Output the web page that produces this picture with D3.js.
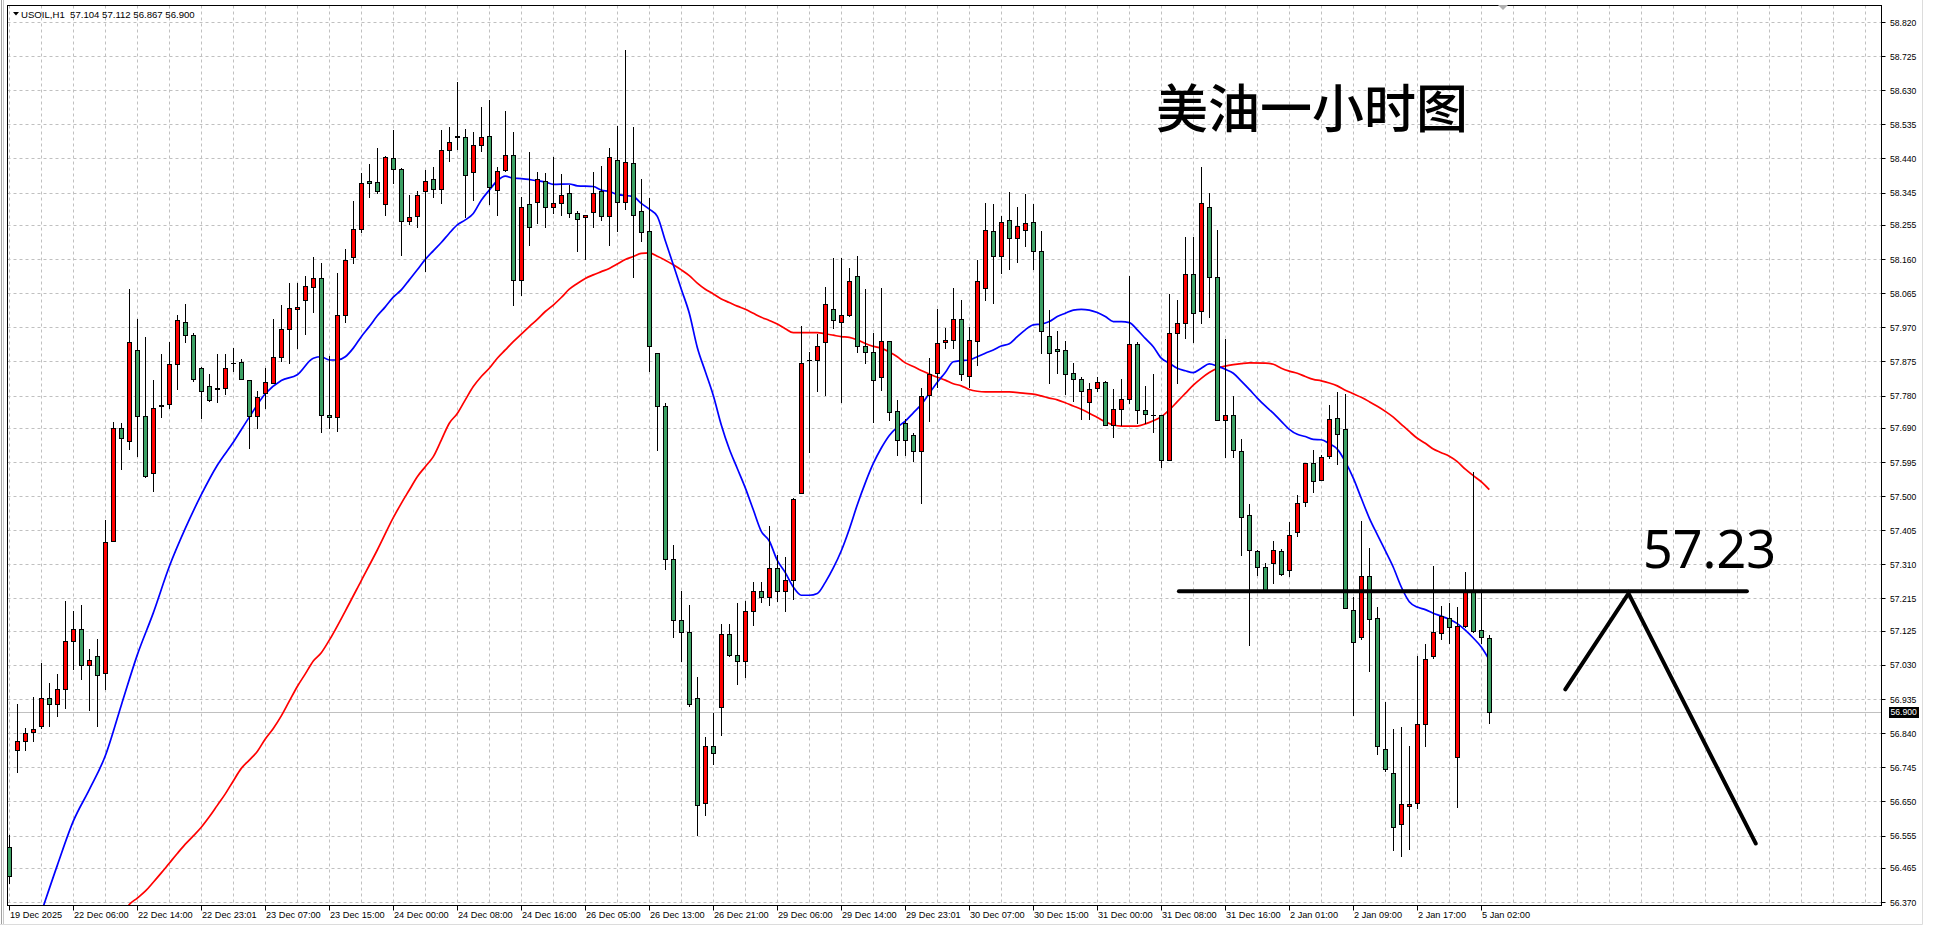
<!DOCTYPE html>
<html>
<head>
<meta charset="utf-8">
<script src="https://cdn.jsdelivr.net/npm/d3@7/dist/d3.min.js"></script>
<style>
  body { margin: 0; background: #fff; }
  svg { display: block; }
</style>
</head>
<body>
<svg id="chart" width="1940" height="938"></svg>
<script>
// OHLC of each hourly bar (bar 0 = left edge)
var opens = [56.524,56.793,56.817,56.843,56.859,56.939,56.922,56.962,57.098,57.131,57.030,57.054,57.007,57.375,57.691,57.654,57.907,57.724,57.565,57.750,
  57.757,57.867,57.984,57.949,57.858,57.806,57.799,57.801,57.872,57.874,57.822,57.722,57.787,57.815,57.888,57.965,58.022,58.047,58.083,58.106,
  57.727,57.719,58.005,58.167,58.243,58.376,58.375,58.312,58.440,58.412,58.267,58.280,58.349,58.382,58.354,58.464,58.499,58.501,58.401,58.477,
  58.504,58.352,58.408,58.451,58.102,58.312,58.319,58.378,58.304,58.317,58.343,58.287,58.276,58.291,58.349,58.280,58.436,58.319,58.428,58.293,
  58.238,57.898,57.750,57.326,57.156,57.121,56.937,56.646,56.805,56.913,57.116,57.059,57.042,57.180,57.237,57.218,57.299,57.237,57.267,57.510,
  57.879,57.879,57.928,58.020,57.985,58.004,58.112,57.917,57.901,57.833,57.931,57.736,57.704,57.669,57.626,57.782,57.842,57.930,57.936,57.993,
  57.834,57.933,58.080,58.239,58.169,58.269,58.219,58.241,58.263,58.183,57.946,57.909,57.907,57.842,57.827,57.762,57.801,57.818,57.699,57.742,
  57.770,57.924,57.740,57.727,57.725,57.601,57.953,57.981,58.118,58.016,58.304,58.111,57.712,57.727,57.627,57.448,57.346,57.302,57.315,57.348,
  57.293,57.400,57.483,57.591,57.544,57.611,57.718,57.688,57.184,57.109,57.277,57.160,56.797,56.728,56.587,56.637,56.647,56.866,57.054,57.119,
  57.162,56.775,57.139,57.236,57.127,57.104];
var highs = [56.557,56.922,56.854,56.941,57.035,56.981,57.004,57.208,57.180,57.196,57.075,57.103,57.433,57.705,57.703,58.078,57.993,57.944,57.822,57.897,
  57.928,58.005,58.036,57.954,57.860,57.841,57.897,57.895,57.911,57.881,57.822,57.792,57.857,57.993,58.033,58.094,58.094,58.113,58.167,58.148,
  57.890,58.122,58.187,58.321,58.399,58.425,58.469,58.447,58.519,58.414,58.337,58.350,58.408,58.417,58.519,58.527,58.653,58.523,58.514,58.582,
  58.603,58.417,58.571,58.514,58.332,58.458,58.401,58.399,58.445,58.397,58.365,58.295,58.284,58.402,58.419,58.469,58.530,58.743,58.527,58.384,
  58.330,57.898,57.758,57.364,57.237,57.196,56.997,56.829,56.897,57.145,57.145,57.202,57.207,57.261,57.261,57.418,57.337,57.331,57.496,57.974,
  57.901,57.950,58.082,58.163,58.163,58.136,58.168,58.076,57.955,58.079,57.931,57.769,57.715,57.677,57.801,57.885,58.020,57.968,58.079,58.047,
  57.972,58.156,58.317,58.313,58.280,58.347,58.304,58.341,58.313,58.237,58.018,57.959,57.931,57.870,57.833,57.814,57.833,57.820,57.799,57.825,
  58.113,57.929,57.807,57.840,57.727,58.063,58.046,58.222,58.222,58.416,58.343,58.241,57.937,57.779,57.658,57.478,57.350,57.313,57.374,57.352,
  57.429,57.504,57.593,57.629,57.615,57.755,57.789,57.785,57.218,57.431,57.356,57.190,56.927,56.852,56.856,56.805,57.054,57.089,57.305,57.194,
  57.202,57.190,57.289,57.568,57.236,57.112];
var lows = [56.423,56.733,56.793,56.817,56.855,56.859,56.889,56.910,57.018,56.990,56.904,56.861,56.964,57.375,57.576,57.630,57.611,57.553,57.513,57.719,
  57.745,57.799,57.928,57.820,57.717,57.764,57.761,57.785,57.848,57.825,57.633,57.689,57.745,57.815,57.876,57.872,57.911,57.951,58.012,57.679,
  57.690,57.682,57.985,58.150,58.234,58.334,58.345,58.284,58.371,58.172,58.258,58.250,58.126,58.334,58.315,58.434,58.466,58.276,58.324,58.460,
  58.312,58.284,58.405,58.031,58.061,58.200,58.261,58.250,58.289,58.282,58.278,58.183,58.159,58.250,58.269,58.200,58.239,58.299,58.109,58.209,
  57.847,57.628,57.296,57.107,57.040,56.916,56.557,56.611,56.754,56.835,57.056,56.978,56.997,57.140,57.205,57.196,57.207,57.180,57.213,57.510,
  57.623,57.793,57.782,57.968,57.763,58.001,57.901,57.871,57.707,57.796,57.712,57.615,57.615,57.599,57.480,57.709,57.804,57.912,57.912,57.823,
  57.805,57.864,58.046,58.039,58.120,58.131,58.152,58.196,58.131,57.899,57.816,57.842,57.784,57.764,57.716,57.714,57.794,57.699,57.664,57.697,
  57.760,57.703,57.703,57.679,57.582,57.601,57.816,57.940,57.929,57.983,57.999,57.712,57.610,57.608,57.335,57.085,57.280,57.239,57.259,57.281,
  57.277,57.388,57.473,57.512,57.544,57.605,57.589,57.188,56.890,57.103,57.014,56.781,56.734,56.514,56.498,56.518,56.631,56.805,57.050,57.101,
  57.091,56.635,57.137,57.123,57.091,56.867];
var closes = [56.442,56.817,56.840,56.852,56.939,56.922,56.962,57.098,57.131,57.030,57.044,57.002,57.372,57.691,57.661,57.930,57.724,57.555,57.745,57.754,
  57.869,57.989,57.949,57.827,57.792,57.768,57.801,57.858,57.872,57.825,57.722,57.775,57.818,57.888,57.965,58.024,58.026,58.085,58.106,57.726,
  57.719,58.005,58.156,58.245,58.371,58.371,58.350,58.445,58.412,58.265,58.276,58.339,58.378,58.354,58.464,58.486,58.504,58.395,58.477,58.499,
  58.362,58.404,58.451,58.102,58.304,58.248,58.382,58.304,58.315,58.339,58.287,58.271,58.284,58.343,58.280,58.445,58.319,58.430,58.282,58.235,
  57.917,57.752,57.326,57.156,57.121,56.921,56.640,56.805,56.784,57.116,57.059,57.042,57.180,57.237,57.218,57.299,57.237,57.267,57.491,57.871,
  57.879,57.917,58.036,57.990,58.004,58.098,57.917,57.901,57.823,57.931,57.734,57.655,57.655,57.626,57.780,57.839,57.925,57.936,57.993,57.839,
  57.935,58.098,58.241,58.169,58.263,58.219,58.252,58.260,58.182,57.961,57.898,57.903,57.840,57.825,57.794,57.799,57.818,57.699,57.742,57.770,
  57.924,57.740,57.729,57.727,57.601,57.953,57.981,58.118,58.009,58.315,58.109,57.712,57.725,57.628,57.441,57.350,57.304,57.239,57.350,57.283,
  57.392,57.481,57.591,57.542,57.609,57.716,57.672,57.188,57.093,57.279,57.158,56.805,56.739,56.579,56.643,56.643,56.866,57.046,57.121,57.166,
  57.137,57.139,57.236,57.125,57.107,56.900];

// blue (fast) and red (slow) moving averages, [bar index, price]
var fastMa = [[3,56.275],[4,56.341],[6,56.472],[8,56.595],[10,56.683],[12,56.777],[14,56.918],[16,57.058],[18,57.175],[20,57.304],
  [22,57.410],[24,57.504],[26,57.586],[28,57.650],[30,57.720],[32,57.785],[34,57.822],[36,57.838],[38,57.884],[39,57.888],[40,57.879],
  [41,57.879],[42,57.888],[43,57.912],[44,57.944],[45,57.972],[46,58.002],[47,58.027],[48,58.054],[49,58.074],[50,58.102],[51,58.130],
  [52,58.159],[53,58.183],[54,58.206],[55,58.232],[56,58.255],[57,58.269],[58,58.287],[59,58.324],[60,58.352],[61,58.378],[62,58.391],
  [63,58.385],[64,58.384],[66,58.378],[67,58.375],[68,58.368],[70,58.369],[71,58.364],[73,58.362],[74,58.352],[75,58.348],[76,58.340],
  [78,58.334],[79,58.315],[80,58.299],[81,58.279],[82,58.211],[83,58.144],[84,58.076],[85,58.009],[86,57.914],[87,57.847],[88,57.780],
  [89,57.698],[90,57.631],[91,57.577],[92,57.523],[93,57.462],[94,57.402],[95,57.375],[96,57.321],[97,57.287],[98,57.247],[99,57.224],
  [100,57.224],[101,57.229],[102,57.260],[103,57.300],[104,57.348],[105,57.408],[106,57.476],[107,57.537],[108,57.591],[109,57.634],
  [110,57.669],[111,57.692],[112,57.709],[113,57.732],[114,57.755],[115,57.786],[116,57.817],[117,57.844],[118,57.874],[119,57.877],
  [120,57.879],[121,57.888],[122,57.898],[123,57.907],[124,57.918],[125,57.924],[126,57.944],[127,57.963],[128,57.977],[129,57.979],
  [130,57.986],[131,58.000],[132,58.009],[133,58.018],[134,58.020],[135,58.018],[136,58.011],[137,58.000],[138,57.986],[139,57.986],
  [140,57.983],[141,57.963],[142,57.939],[143,57.916],[144,57.884],[145,57.870],[146,57.856],[147,57.849],[148,57.844],[149,57.856],
  [150,57.868],[151,57.862],[152,57.853],[153,57.842],[154,57.820],[155,57.797],[156,57.773],[157,57.751],[158,57.731],[159,57.708],
  [160,57.686],[161,57.672],[162,57.666],[163,57.658],[164,57.657],[165,57.646],[166,57.631],[167,57.596],[168,57.550],[169,57.494],
  [170,57.439],[171,57.393],[172,57.348],[173,57.302],[174,57.247],[175,57.206],[176,57.191],[177,57.184],[178,57.174],[179,57.166],
  [180,57.157],[181,57.145],[182,57.127],[183,57.105],[184,57.080],[185,57.044]];
var slowMa = [[14,56.330],[15,56.363],[16,56.381],[17,56.400],[18,56.425],[19,56.451],[20,56.478],[21,56.505],[22,56.531],[23,56.554],
  [24,56.578],[25,56.607],[26,56.639],[27,56.671],[28,56.707],[29,56.742],[30,56.765],[31,56.789],[32,56.824],[33,56.853],[34,56.888],
  [35,56.929],[36,56.970],[37,57.005],[38,57.041],[39,57.064],[40,57.099],[42,57.180],[44,57.265],[46,57.350],[48,57.440],[49,57.480],
  [50,57.517],[51,57.554],[52,57.582],[53,57.610],[54,57.656],[55,57.703],[56,57.730],[57,57.768],[58,57.805],[59,57.833],[60,57.856],
  [61,57.884],[62,57.907],[63,57.930],[64,57.951],[65,57.972],[66,57.992],[67,58.014],[68,58.032],[69,58.053],[70,58.076],[71,58.092],
  [72,58.106],[73,58.116],[74,58.125],[75,58.134],[76,58.146],[77,58.159],[78,58.167],[79,58.176],[80,58.177],[81,58.168],[82,58.157],
  [83,58.144],[84,58.130],[85,58.114],[86,58.093],[87,58.076],[88,58.063],[89,58.049],[90,58.039],[91,58.029],[92,58.020],[93,58.009],
  [94,57.998],[95,57.989],[96,57.979],[97,57.966],[98,57.955],[101,57.955],[102,57.952],[103,57.948],[104,57.944],[105,57.942],
  [106,57.935],[107,57.925],[108,57.917],[109,57.912],[110,57.901],[111,57.888],[112,57.871],[113,57.861],[114,57.850],[115,57.840],
  [116,57.831],[117,57.823],[118,57.813],[119,57.807],[120,57.797],[121,57.792],[122,57.790],[125,57.790],[127,57.786],[128,57.784],
  [129,57.779],[130,57.773],[131,57.768],[132,57.760],[133,57.751],[134,57.742],[135,57.731],[136,57.719],[137,57.707],[138,57.698],
  [139,57.695],[141,57.695],[142,57.701],[143,57.710],[144,57.721],[145,57.740],[146,57.763],[147,57.786],[148,57.809],[149,57.828],
  [150,57.844],[151,57.856],[152,57.862],[153,57.866],[154,57.869],[155,57.871],[157,57.870],[158,57.867],[159,57.856],[160,57.848],
  [161,57.842],[162,57.833],[163,57.825],[164,57.821],[165,57.815],[166,57.807],[167,57.795],[168,57.785],[169,57.775],[170,57.763],
  [171,57.750],[172,57.736],[173,57.720],[174,57.700],[175,57.680],[176,57.661],[177,57.647],[178,57.631],[179,57.621],[180,57.611],
  [181,57.596],[182,57.575],[183,57.557],[184,57.540],[185,57.518]];

// time axis labels, one every 8 bars
var timeLabels = ["19 Dec 2025","22 Dec 06:00","22 Dec 14:00","22 Dec 23:01","23 Dec 07:00","23 Dec 15:00","24 Dec 00:00","24 Dec 08:00",
  "24 Dec 16:00","26 Dec 05:00","26 Dec 13:00","26 Dec 21:00","29 Dec 06:00","29 Dec 14:00","29 Dec 23:01","30 Dec 07:00",
  "30 Dec 15:00","31 Dec 00:00","31 Dec 08:00","31 Dec 16:00","2 Jan 01:00","2 Jan 09:00","2 Jan 17:00","5 Jan 02:00"];
var priceTicks = ["58.820","58.725","58.630","58.535","58.440","58.345","58.255","58.160","58.065","57.970","57.875","57.780","57.690",
  "57.595","57.500","57.405","57.310","57.215","57.125","57.030","56.935","56.840","56.745","56.650","56.555","56.465","56.370"];

var lastPrice = 56.900;
var headerText = "USOIL,H1  57.104 57.112 56.867 56.900";
var titleText = "美油一小时图";
var levelPrice = 57.235, levelLabel = "57.23";
var levelSpan = [146.2, 217.2];                 // bar indices of the drawn level
var pathPoints = [[194.5, 56.962], [202.4, 57.229], [218.3, 56.533]];

var svg = d3.select("#chart");
// plot frame edges (note: "top" is reserved on window, so prefixed names)
var plotL = 7.5, plotT = 5.5, plotR = 1881.5, plotB = 905.5;

var x = d3.scaleLinear().domain([0, 1]).range([9.3, 17.3]);
var y = d3.scaleLinear().domain([56.370, 58.820]).range([902, 22]);

function snap(v){ return Math.round(v) + 0.5; }

// window frame
svg.append("rect").attr("x", 0).attr("y", 0).attr("width", 1940).attr("height", 938).attr("fill", "#fff");
svg.append("line").attr("x1", 1.5).attr("x2", 1.5).attr("y1", 0).attr("y2", 924).attr("stroke", "#a0a0a0").attr("stroke-width", 1);
svg.append("line").attr("x1", 3.5).attr("x2", 3.5).attr("y1", 0).attr("y2", 924).attr("stroke", "#c8c8c8").attr("stroke-width", 1);
svg.append("line").attr("x1", 1922.5).attr("x2", 1922.5).attr("y1", 0).attr("y2", 924.5).attr("stroke", "#dcdcdc");
svg.append("line").attr("x1", 0).attr("x2", 1922.5).attr("y1", 924.5).attr("y2", 924.5).attr("stroke", "#dcdcdc");

svg.append("clipPath").attr("id", "plotclip").append("rect")
  .attr("x", plotL).attr("y", plotT).attr("width", plotR - plotL).attr("height", plotB - plotT);

var grid = svg.append("g").attr("clip-path", "url(#plotclip)");

// vertical grid, every 4 bars
var vgrid = d3.range(0, 234, 4);
grid.selectAll(".vg").data(vgrid).enter().append("line")
  .attr("x1", function(d){ return snap(x(d)); }).attr("x2", function(d){ return snap(x(d)); })
  .attr("y1", plotT).attr("y2", plotB)
  .attr("stroke", "#c0c0c0").attr("stroke-dasharray", "3,3");

// horizontal grid at price ticks
grid.selectAll(".hg").data(priceTicks).enter().append("line")
  .attr("x1", plotL).attr("x2", plotR)
  .attr("y1", function(d){ return snap(y(+d)); }).attr("y2", function(d){ return snap(y(+d)); })
  .attr("stroke", "#c0c0c0").attr("stroke-dasharray", "3,3");

// last price line
grid.append("line").attr("x1", plotL).attr("x2", plotR)
  .attr("y1", snap(y(lastPrice))).attr("y2", snap(y(lastPrice)))
  .attr("stroke", "#c0c0c0");

var plot = svg.append("g").attr("clip-path", "url(#plotclip)");

// moving averages
var maLine = d3.line()
  .x(function(d){ return x(d[0]); })
  .y(function(d){ return y(d[1]); })
  .curve(d3.curveMonotoneX);

plot.append("path").datum(slowMa).attr("d", maLine)
  .attr("fill", "none").attr("stroke", "#ff0000").attr("stroke-width", 1.7);
plot.append("path").datum(fastMa).attr("d", maLine)
  .attr("fill", "none").attr("stroke", "#0000ff").attr("stroke-width", 1.7);

// candles
var bars = d3.range(opens.length);
var candle = plot.selectAll(".c").data(bars).enter().append("g");

candle.append("line")
  .attr("x1", function(i){ return snap(x(i)); }).attr("x2", function(i){ return snap(x(i)); })
  .attr("y1", function(i){ return Math.round(y(highs[i])); })
  .attr("y2", function(i){ return Math.round(y(lows[i])) + 1; })
  .attr("stroke", "#000").attr("stroke-width", 1);

candle.each(function(i){
  var g = d3.select(this);
  var xc = Math.round(x(i));
  var t = Math.round(y(Math.max(opens[i], closes[i])));
  var b = Math.round(y(Math.min(opens[i], closes[i])));
  if (b - t < 1) {
    g.append("line").attr("x1", xc - 2).attr("x2", xc + 3)
      .attr("y1", t + 0.5).attr("y2", t + 0.5).attr("stroke", "#000");
  } else {
    g.append("rect")
      .attr("x", xc - 2 + 0.5).attr("y", t + 0.5)
      .attr("width", 4).attr("height", b - t)
      .attr("fill", closes[i] > opens[i] ? "#ff0000" : "#3ca064")
      .attr("stroke", "#000").attr("stroke-width", 1);
  }
});

// drawn level and path
plot.append("line")
  .attr("x1", x(levelSpan[0])).attr("x2", x(levelSpan[1]))
  .attr("y1", y(levelPrice)).attr("y2", y(levelPrice))
  .attr("stroke", "#000").attr("stroke-width", 4).attr("stroke-linecap", "round");

plot.append("path").datum(pathPoints)
  .attr("d", d3.line().x(function(d){ return x(d[0]); }).y(function(d){ return y(d[1]); }))
  .attr("fill", "none").attr("stroke", "#000").attr("stroke-width", 4)
  .attr("stroke-linecap", "round").attr("stroke-linejoin", "miter");

svg.append("text").attr("x", 1643).attr("y", 568)
  .attr("font-family", "'Noto Sans', 'Liberation Sans', sans-serif").attr("font-size", 52)
  .attr("fill", "#000").text(levelLabel);

svg.append("text").attr("x", 1156).attr("y", 128)
  .attr("font-family", "'Noto Sans CJK SC', sans-serif").attr("font-size", 52).attr("font-weight", 500)
  .attr("fill", "#000").text(titleText);

// plot frame
svg.append("rect").attr("x", plotL).attr("y", plotT).attr("width", plotR - plotL).attr("height", plotB - plotT)
  .attr("fill", "none").attr("stroke", "#000").attr("stroke-width", 1);

// price axis
var pa = svg.append("g");
pa.selectAll(".pt").data(priceTicks).enter().append("line")
  .attr("x1", plotR).attr("x2", plotR + 4)
  .attr("y1", function(d){ return snap(y(+d)); }).attr("y2", function(d){ return snap(y(+d)); })
  .attr("stroke", "#000");
pa.selectAll(".pl").data(priceTicks).enter().append("text")
  .attr("x", 1890).attr("y", function(d){ return y(+d) + 3.5; })
  .attr("font-family", "'Liberation Sans', sans-serif").attr("font-size", 8.6)
  .attr("fill", "#000").text(function(d){ return d; });

// last price tag
pa.append("rect").attr("x", 1889).attr("y", Math.round(y(lastPrice)) - 5)
  .attr("width", 30).attr("height", 11).attr("fill", "#000");
pa.append("text").attr("x", 1890.5).attr("y", y(lastPrice) + 3.5)
  .attr("font-family", "'Liberation Sans', sans-serif").attr("font-size", 8.6)
  .attr("fill", "#fff").text(lastPrice.toFixed(3));

// time axis
var ta = svg.append("g");
ta.selectAll(".tt").data(timeLabels).enter().append("line")
  .attr("x1", function(d, k){ return snap(x(k * 8)); }).attr("x2", function(d, k){ return snap(x(k * 8)); })
  .attr("y1", plotB).attr("y2", plotB + 5)
  .attr("stroke", "#000");
ta.selectAll(".tl").data(timeLabels).enter().append("text")
  .attr("x", function(d, k){ return Math.round(x(k * 8)) + 1; }).attr("y", 918)
  .attr("font-family", "'Liberation Sans', sans-serif").attr("font-size", 9.2)
  .attr("fill", "#000").text(function(d){ return d; });

// header
svg.append("path").attr("d", "M13,12 L19,12 L16,15.5 Z").attr("fill", "#000");
svg.append("text").attr("x", 21).attr("y", 17.5)
  .attr("font-family", "'Liberation Sans', sans-serif").attr("font-size", 9.6)
  .attr("fill", "#000").style("white-space", "pre").text(headerText);

// chart shift marker
svg.append("path").attr("d", "M1498,5 L1508,5 L1503,10 Z").attr("fill", "#b0b0b0");
</script>
</body>
</html>
